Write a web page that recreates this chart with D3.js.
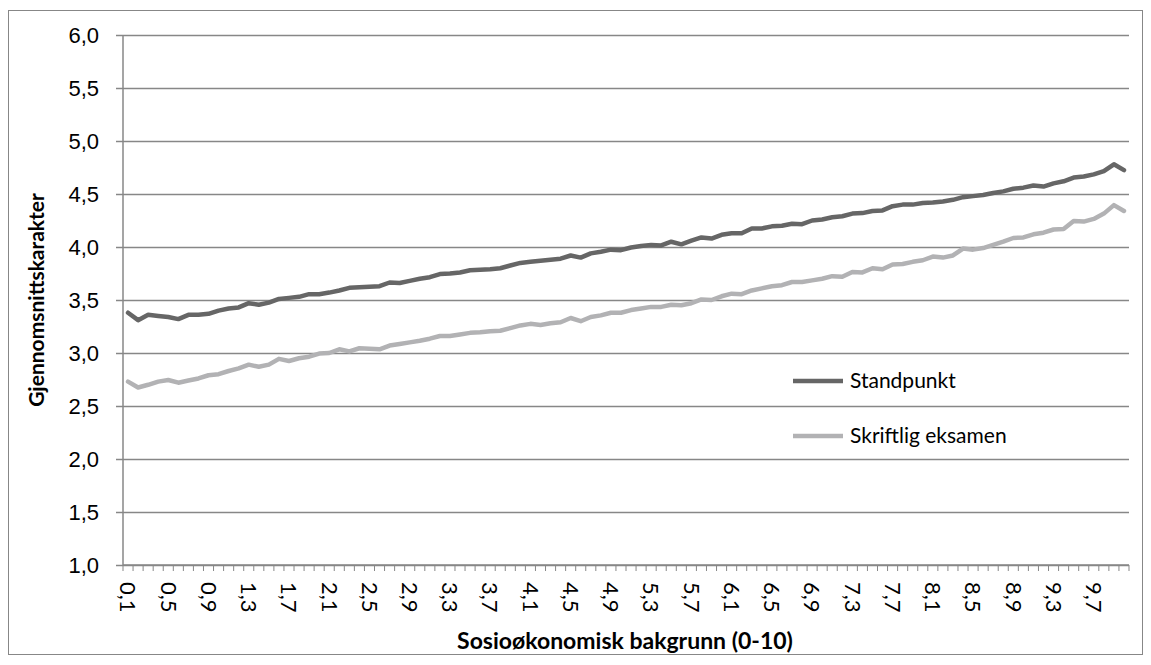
<!DOCTYPE html>
<html lang="no">
<head>
<meta charset="UTF-8">
<title>Gjennomsnittskarakter etter sosioøkonomisk bakgrunn</title>
<script src="https://d3js.org/d3.v7.min.js"></script>
<style>
    body { margin: 0; background: #fff; }
    svg { display: block; font-family: Lato, "Open Sans", sans-serif; }
</style>
</head>
<body>
<svg id="chart"></svg>
<script>
// x categories: sosioøkonomisk bakgrunn 0,1 .. 10,0
const categories = [
    "0,1","0,2","0,3","0,4","0,5","0,6","0,7","0,8","0,9","1,0",
    "1,1","1,2","1,3","1,4","1,5","1,6","1,7","1,8","1,9","2,0",
    "2,1","2,2","2,3","2,4","2,5","2,6","2,7","2,8","2,9","3,0",
    "3,1","3,2","3,3","3,4","3,5","3,6","3,7","3,8","3,9","4,0",
    "4,1","4,2","4,3","4,4","4,5","4,6","4,7","4,8","4,9","5,0",
    "5,1","5,2","5,3","5,4","5,5","5,6","5,7","5,8","5,9","6,0",
    "6,1","6,2","6,3","6,4","6,5","6,6","6,7","6,8","6,9","7,0",
    "7,1","7,2","7,3","7,4","7,5","7,6","7,7","7,8","7,9","8,0",
    "8,1","8,2","8,3","8,4","8,5","8,6","8,7","8,8","8,9","9,0",
    "9,1","9,2","9,3","9,4","9,5","9,6","9,7","9,8","9,9","10,0"
];

const standpunkt = [
    3.38, 3.31, 3.36, 3.35, 3.34, 3.32, 3.36, 3.36, 3.37, 3.40,
    3.42, 3.43, 3.47, 3.455, 3.475, 3.51, 3.52, 3.53, 3.555, 3.555,
    3.57, 3.59, 3.615, 3.62, 3.625, 3.63, 3.665, 3.66, 3.68, 3.70,
    3.715, 3.745, 3.75, 3.76, 3.78, 3.785, 3.79, 3.80, 3.825, 3.85,
    3.86, 3.87, 3.88, 3.89, 3.92, 3.90, 3.94, 3.955, 3.975, 3.97,
    3.995, 4.01, 4.02, 4.015, 4.05, 4.025, 4.06, 4.09, 4.08, 4.115,
    4.13, 4.13, 4.175, 4.175, 4.195, 4.20, 4.22, 4.215, 4.25, 4.26,
    4.28, 4.29, 4.315, 4.32, 4.34, 4.345, 4.385, 4.40, 4.40, 4.415,
    4.42, 4.43, 4.445, 4.47, 4.48, 4.49, 4.51, 4.525, 4.55, 4.56,
    4.58, 4.57, 4.60, 4.62, 4.655, 4.665, 4.685, 4.715, 4.78, 4.725
];

const skriftlig = [
    2.73, 2.675, 2.70, 2.73, 2.745, 2.72, 2.74, 2.76, 2.79, 2.80,
    2.83, 2.855, 2.89, 2.87, 2.89, 2.945, 2.925, 2.95, 2.965, 2.995,
    3.00, 3.035, 3.015, 3.045, 3.04, 3.035, 3.07, 3.085, 3.10, 3.115,
    3.135, 3.16, 3.16, 3.175, 3.19, 3.195, 3.205, 3.21, 3.235, 3.26,
    3.275, 3.265, 3.28, 3.29, 3.33, 3.30, 3.34, 3.355, 3.38, 3.38,
    3.405, 3.42, 3.435, 3.435, 3.455, 3.45, 3.47, 3.505, 3.50, 3.535,
    3.56, 3.555, 3.59, 3.61, 3.63, 3.64, 3.67, 3.67, 3.685, 3.70,
    3.725, 3.72, 3.765, 3.76, 3.80, 3.79, 3.835, 3.84, 3.86, 3.875,
    3.91, 3.90, 3.92, 3.985, 3.975, 3.99, 4.02, 4.05, 4.085, 4.09,
    4.12, 4.135, 4.165, 4.17, 4.245, 4.24, 4.265, 4.315, 4.395, 4.34
];

const yTicks = [1.0, 1.5, 2.0, 2.5, 3.0, 3.5, 4.0, 4.5, 5.0, 5.5, 6.0];

const series = [
    { name: "Standpunkt", values: standpunkt, color: "#666666" },
    { name: "Skriftlig eksamen", values: skriftlig, color: "#b2b2b4" }
];

const width = 1151, height = 665;
const margin = { top: 35, right: 22, bottom: 100, left: 123 };
const axisColor = "#878787";

const svg = d3.select("#chart")
    .attr("width", width)
    .attr("height", height);

// outer frame
svg.append("rect")
    .attr("x", 8.5).attr("y", 10.5)
    .attr("width", 1134).attr("height", 644)
    .attr("fill", "#fff")
    .attr("stroke", axisColor)
    .attr("stroke-width", 1);

const x = d3.scaleBand()
    .domain(categories)
    .range([margin.left, width - margin.right])
    .padding(0);

const y = d3.scaleLinear()
    .domain([1, 6])
    .range([height - margin.bottom, margin.top]);

const fmt = d => d3.format(".1f")(d).replace(".", ",");

// gridlines + y axis
const yAxis = d3.axisLeft(y)
    .tickValues(yTicks)
    .tickFormat(fmt)
    .tickSize(-(width - margin.right - margin.left))
    .tickPadding(24);

const gy = svg.append("g")
    .attr("transform", `translate(${margin.left},0)`)
    .call(yAxis);
gy.select(".domain").remove();
gy.selectAll(".tick line")
    .attr("x1", -7)
    .attr("stroke", axisColor)
    .attr("stroke-width", 1.5);
gy.selectAll(".tick text")
    .attr("fill", "#000")
    .style("font-size", "22px");

// vertical axis line
svg.append("line")
    .attr("x1", margin.left).attr("x2", margin.left)
    .attr("y1", y(6)).attr("y2", y(1))
    .attr("stroke", axisColor).attr("stroke-width", 1.5);

// x axis: ticks between categories, labels every 4th category
const xBottom = y(1);
const gx = svg.append("g");
gx.append("line")
    .attr("x1", margin.left).attr("x2", width - margin.right)
    .attr("y1", xBottom).attr("y2", xBottom)
    .attr("stroke", axisColor).attr("stroke-width", 1.5);

const tickPos = categories.map(c => x(c)).concat([x.range()[1]]);
gx.selectAll(".xtick")
    .data(tickPos)
    .join("line")
    .attr("class", "xtick")
    .attr("x1", d => d).attr("x2", d => d)
    .attr("y1", xBottom).attr("y2", xBottom + 6)
    .attr("stroke", axisColor).attr("stroke-width", 1);

gx.selectAll(".xlabel")
    .data(categories.filter((c, i) => i % 4 === 0))
    .join("text")
    .attr("class", "xlabel")
    .attr("transform", d => `translate(${x(d) + x.bandwidth() / 2},${xBottom + 17}) rotate(90)`)
    .attr("dy", "0.35em")
    .style("font-size", "22px")
    .attr("fill", "#000")
    .text(d => d);

// lines
const line = d3.line()
    .x((d, i) => x(categories[i]) + x.bandwidth() / 2)
    .y(d => y(d));

svg.selectAll(".series")
    .data(series)
    .join("path")
    .attr("class", "series")
    .attr("d", d => line(d.values))
    .attr("fill", "none")
    .attr("stroke", d => d.color)
    .attr("stroke-width", 4.5)
    .attr("stroke-linejoin", "round")
    .attr("stroke-linecap", "round");

// legend
const legend = svg.selectAll(".legend")
    .data(series)
    .join("g")
    .attr("class", "legend")
    .attr("transform", (d, i) => `translate(793,${381 + i * 55})`);
legend.append("line")
    .attr("x1", 0).attr("x2", 50)
    .attr("stroke", d => d.color)
    .attr("stroke-width", 4.5);
legend.append("text")
    .attr("x", 57)
    .attr("dy", "0.35em")
    .style("font-size", "21px")
    .text(d => d.name);

// axis titles
svg.append("text")
    .attr("x", 625)
    .attr("y", 641)
    .attr("text-anchor", "middle")
    .attr("dy", "0.35em")
    .style("font-size", "23px")
    .style("font-weight", "bold")
    .text("Sosioøkonomisk bakgrunn (0-10)");

svg.append("text")
    .attr("transform", `translate(37,${(y(1) + y(6)) / 2}) rotate(-90)`)
    .attr("text-anchor", "middle")
    .attr("dy", "0.35em")
    .style("font-size", "21px")
    .style("font-weight", "bold")
    .text("Gjennomsnittskarakter");
</script>
</body>
</html>
